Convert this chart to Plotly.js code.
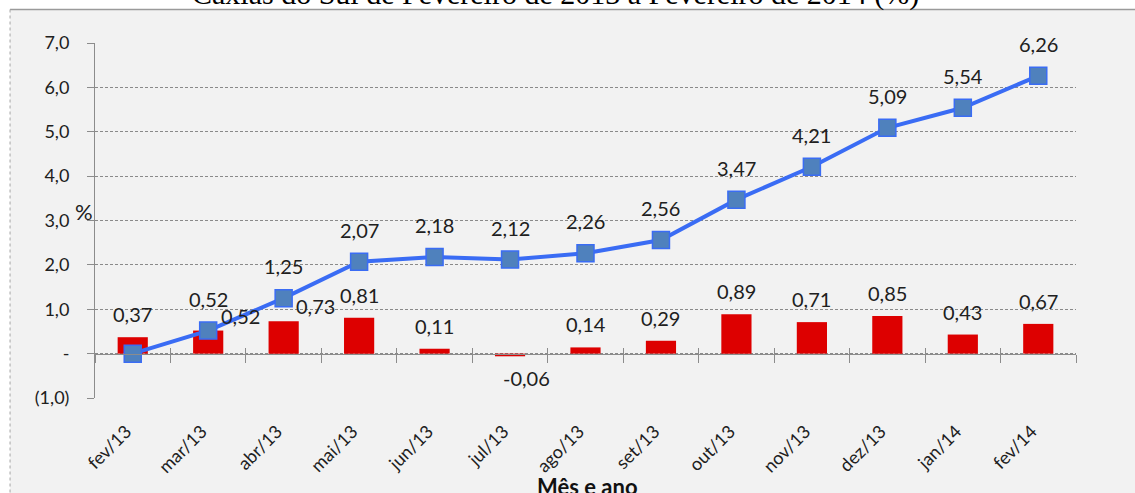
<!DOCTYPE html>
<html>
<head>
<meta charset="utf-8">
<script src="https://cdn.plot.ly/plotly-3.0.1.min.js"></script>
<style>
html,body{margin:0;padding:0;background:#ffffff;}
#chart{width:1135px;height:493px;}
</style>
</head>
<body>
<div id="chart"></div>
<script>
// ---- data ----
const categories = ['fev/13','mar/13','abr/13','mai/13','jun/13','jul/13','ago/13','set/13','out/13','nov/13','dez/13','jan/14','fev/14'];
const monthly = [0.37, 0.52, 0.73, 0.81, 0.11, -0.06, 0.14, 0.29, 0.89, 0.71, 0.85, 0.43, 0.67];
const cumulative = [0, 0.52, 1.25, 2.07, 2.18, 2.12, 2.26, 2.56, 3.47, 4.21, 5.09, 5.54, 6.26];
const yTickVals = [-1, 0, 1, 2, 3, 4, 5, 6, 7];
const yTickText = ['(1,0)', '-', '1,0', '2,0', '3,0', '4,0', '5,0', '6,0', '7,0'];
const titleText = 'Caxias do Sul de Fevereiro de 2013 a Fevereiro de 2014 (%)';
const xTitleText = 'Mês e ano';
const yTitleText = '%';

// ---- styling / layout ----
const FONT = 'Lato, "Open Sans", sans-serif';
const TXT = '#202020';
const fmt = v => v.toFixed(2).replace('.', ',');
const NB = '\u00a0\u00a0';

// label offsets (px) for bar labels that Excel moved to avoid overlap
const barLabelShift = {1: {x: 32, y: 15}, 2: {x: 32, y: 15}, 5: {x: 16, y: -22}};

const barTrace = {
  type: 'bar', x: categories, y: monthly,
  marker: {color: '#dd0000'}, width: 0.4,
  hoverinfo: 'x+y', showlegend: false
};
const lineTrace = {
  type: 'scatter', mode: 'lines+markers', x: categories, y: cumulative,
  line: {color: '#3a6cf4', width: 4},
  marker: {symbol: 'square', size: 17, color: '#4f81bd', line: {color: '#3a6cf4', width: 1.5}},
  showlegend: false
};
const axisTrace = {
  type: 'scatter', mode: 'markers', x: categories, y: categories.map(() => null),
  xaxis: 'x2', yaxis: 'y', hoverinfo: 'skip', showlegend: false
};
const axisTrace3 = Object.assign({}, axisTrace, {xaxis: 'x3'});

const annotations = [];
monthly.forEach((v, i) => {
  const s = barLabelShift[i] || {x: 0, y: v >= 0 ? 23 : -22};
  annotations.push({x: categories[i], y: v, xref: 'x', yref: 'y', text: fmt(v), showarrow: false,
    xanchor: 'center', yanchor: 'middle', xshift: s.x, yshift: s.y, font: {family: FONT, size: 20, color: TXT}});
});
cumulative.forEach((v, i) => {
  if (i === 0) return;
  annotations.push({x: categories[i], y: v, xref: 'x', yref: 'y', text: fmt(v), showarrow: false,
    xanchor: 'center', yanchor: 'middle', yshift: 32, font: {family: FONT, size: 20, color: TXT}});
});
annotations.push({x: 0.469, y: 1.137, xref: 'paper', yref: 'paper', text: titleText, showarrow: false,
  xanchor: 'center', yanchor: 'middle', font: {family: '"Liberation Serif", "Times New Roman", serif', size: 30, color: '#000'}});
annotations.push({x: -0.011, y: 3.2, xref: 'paper', yref: 'y', text: yTitleText, showarrow: false,
  xanchor: 'center', yanchor: 'middle', font: {family: FONT, size: 22, color: TXT}});
annotations.push({x: 0.5025, y: -0.249, xref: 'paper', yref: 'paper', text: xTitleText, showarrow: false,
  xanchor: 'center', yanchor: 'middle', font: {family: FONT, size: 22, color: '#111', weight: 'bold'}});

const layout = {
  width: 1135, height: 493,
  margin: {l: 95, r: 59, t: 43, b: 95},
  paper_bgcolor: '#ffffff', plot_bgcolor: 'rgba(0,0,0,0)',
  font: {family: FONT, color: TXT},
  xaxis: {
    type: 'category', range: [-0.5, 12.5], showgrid: false, showline: false, zeroline: false,
    ticks: '', tickangle: -45, tickvals: categories, ticktext: categories.map(c => c + NB),
    tickfont: {family: FONT, size: 18, color: TXT}, ticklabelstandoff: 12
  },
  xaxis2: {
    type: 'category', overlaying: 'x', anchor: 'free', position: 0.125, side: 'bottom',
    range: [-0.5, 12.5], showgrid: false, zeroline: false, showticklabels: false,
    showline: true, linecolor: '#8c8c8c', linewidth: 1,
    ticks: 'outside', tickson: 'boundaries', ticklen: 8, tickcolor: '#8c8c8c', tickwidth: 1
  },
  xaxis3: {
    type: 'category', overlaying: 'x', anchor: 'free', position: 0.125, side: 'bottom',
    range: [-0.5, 12.5], showgrid: false, zeroline: false, showticklabels: false, showline: false,
    ticks: 'inside', tickson: 'boundaries', ticklen: 6, tickcolor: '#8c8c8c', tickwidth: 1
  },
  yaxis: {
    range: [-1, 7], tickvals: yTickVals, ticktext: yTickText,
    showgrid: true, gridcolor: '#8a8a8a', griddash: '3px,2px', gridwidth: 1,
    zeroline: false, showline: true, linecolor: '#8c8c8c', linewidth: 1,
    ticks: 'outside', ticklen: 7, tickcolor: '#8c8c8c',
    tickfont: {family: FONT, size: 18, color: TXT}, ticklabelstandoff: 14
  },
  shapes: [
    {type: 'rect', xref: 'paper', yref: 'paper', x0: -0.0866, x1: 1.08, y0: -0.3, y1: 1.0944,
     fillcolor: '#f2f2f2', line: {width: 0}, layer: 'below'},
    {type: 'line', xref: 'paper', yref: 'paper', x0: -0.0866, x1: 1.08, y0: 1.0944, y1: 1.0944,
     line: {color: '#9a9a9a', width: 1.5}, layer: 'below'},
    {type: 'line', xref: 'paper', yref: 'paper', x0: -0.0866, x1: -0.0866, y0: -0.3, y1: 1.0944,
     line: {color: '#a6a6a6', width: 1, dash: 'dot'}, layer: 'below'}
  ],
  annotations: annotations
};

Plotly.newPlot('chart', [barTrace, lineTrace, axisTrace, axisTrace3], layout, {displayModeBar: false, staticPlot: true});
</script>
</body>
</html>
